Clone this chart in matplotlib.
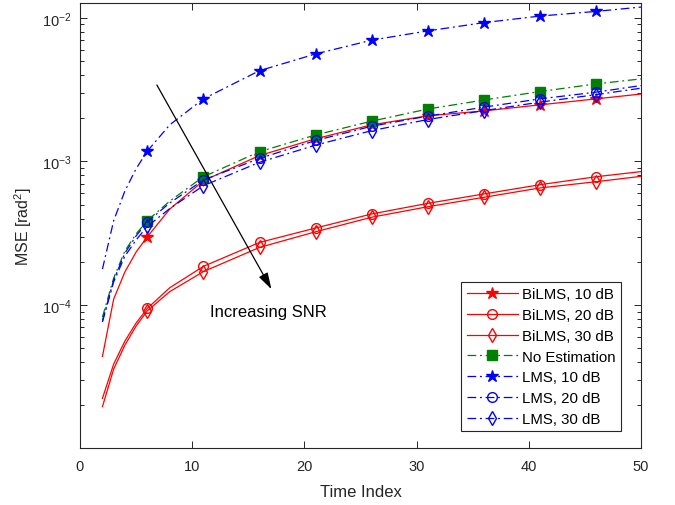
import numpy as np
import matplotlib
matplotlib.use("Agg")
import matplotlib.pyplot as plt

t = [2, 3, 4, 5, 6, 8, 11, 16, 21, 26, 31, 36, 41, 46, 50]
# Time indices that carry a marker
marker_t = [6, 11, 16, 21, 26, 31, 36, 41, 46]

# MSE values [rad^2]
bilms_10 = [4.39e-5, 1.10e-4, 1.70e-4, 2.34e-4, 2.99e-4, 4.66e-4, 7.35e-4, 1.10e-3,
            1.44e-3, 1.80e-3, 2.08e-3, 2.25e-3, 2.48e-3, 2.73e-3, 2.95e-3]
bilms_20 = [2.24e-5, 3.88e-5, 5.61e-5, 7.50e-5, 9.48e-5, 1.32e-4, 1.86e-4, 2.73e-4,
            3.44e-4, 4.31e-4, 5.11e-4, 5.94e-4, 6.89e-4, 7.83e-4, 8.50e-4]
bilms_30 = [1.96e-5, 3.58e-5, 5.26e-5, 7.14e-5, 9.12e-5, 1.24e-4, 1.71e-4, 2.52e-4,
            3.24e-4, 4.09e-4, 4.84e-4, 5.63e-4, 6.54e-4, 7.23e-4, 7.88e-4]
no_est = [8.25e-5, 1.54e-4, 2.38e-4, 3.13e-4, 3.87e-4, 5.30e-4, 7.83e-4, 1.17e-3,
          1.53e-3, 1.91e-3, 2.32e-3, 2.68e-3, 3.07e-3, 3.47e-3, 3.76e-3]
lms_10 = [1.78e-4, 3.87e-4, 6.23e-4, 8.90e-4, 1.18e-3, 1.80e-3, 2.73e-3, 4.29e-3,
          5.61e-3, 7.00e-3, 8.12e-3, 9.27e-3, 1.03e-2, 1.11e-2, 1.19e-2]
lms_20 = [7.78e-5, 1.49e-4, 2.30e-4, 3.03e-4, 3.80e-4, 5.14e-4, 7.43e-4, 1.05e-3,
          1.40e-3, 1.76e-3, 2.07e-3, 2.39e-3, 2.73e-3, 3.04e-3, 3.38e-3]
lms_30 = [7.62e-5, 1.45e-4, 2.19e-4, 2.84e-4, 3.53e-4, 4.70e-4, 6.78e-4, 9.87e-4,
          1.30e-3, 1.64e-3, 1.96e-3, 2.26e-3, 2.59e-3, 2.92e-3, 3.24e-3]

plt.rcParams['font.family'] = ['Liberation Sans', 'DejaVu Sans']
plt.rcParams['mathtext.fontset'] = 'custom'
plt.rcParams['mathtext.rm'] = 'Liberation Sans'
plt.rcParams['mathtext.it'] = 'Liberation Sans:italic'

dark = '#262626'
green = (0, 0.5, 0)
dashdot = (0, (7, 3, 1.5, 3))
marks = list(np.where(np.isin(t, marker_t))[0])

fig = plt.figure(figsize=(6.75, 5.06), dpi=100)
ax = fig.add_axes([80 / 675, 1 - 449 / 506, 561 / 675, 445 / 506])

lw = 0.9
ax.plot(t, bilms_10, color='r', lw=lw, marker='*', ms=9, markevery=marks,
        label='BiLMS, 10 dB')
ax.plot(t, bilms_20, color='r', lw=lw, marker='o', ms=7, mfc='none', markevery=marks,
        label='BiLMS, 20 dB')
ax.plot(t, bilms_30, color='r', lw=lw, marker='d', ms=7, mfc='none', markevery=marks,
        label='BiLMS, 30 dB')
ax.plot(t, no_est, color=green, lw=lw, ls=dashdot, marker='s', ms=6.5, markevery=marks,
        label='No Estimation')
ax.plot(t, lms_10, color='b', lw=lw, ls=dashdot, marker='*', ms=9, markevery=marks,
        label='LMS, 10 dB')
ax.plot(t, lms_20, color='b', lw=lw, ls=dashdot, marker='o', ms=7, mfc='none',
        markevery=marks, label='LMS, 20 dB')
ax.plot(t, lms_30, color='b', lw=lw, ls=dashdot, marker='d', ms=7, mfc='none',
        markevery=marks, label='LMS, 30 dB')

ax.set_yscale('log')
ax.set_xlim(0, 50)
ax.set_ylim(1.01e-5, 1.27e-2)
ax.set_xticks([0, 10, 20, 30, 40, 50])

# arrow and annotation
ax.annotate('', xy=(17.06, 1.29e-4), xytext=(6.85, 3.41e-3),
            arrowprops=dict(arrowstyle='-|>,head_length=1.0,head_width=0.3',
                            color='k', lw=0.9, shrinkA=0, shrinkB=0))
ax.text(11.57, 8.98e-5, 'Increasing SNR', va='center', ha='left', fontsize=12,
        color='k')

ax.set_xlabel('Time Index', fontsize=12, color=dark, labelpad=8)
ax.set_ylabel('MSE [rad$^{\\mathregular{2}}$]', fontsize=11.5, color=dark, labelpad=6)

ax.tick_params(which='both', direction='in', top=True, right=True,
               colors=dark, labelsize=10.5, width=0.7)
ax.tick_params(which='major', length=5, pad=8)
ax.tick_params(which='minor', length=3)
ax.tick_params(axis='y', which='major', pad=6)
for s in ax.spines.values():
    s.set_color(dark)
    s.set_linewidth(0.8)

leg = ax.legend(loc='lower right', bbox_to_anchor=(0.9643, 0.038), borderaxespad=0,
                fontsize=10.8, handlelength=3.4, handletextpad=0.3, labelspacing=0.45,
                borderpad=0.35, fancybox=False, framealpha=1, edgecolor=dark)
leg.get_frame().set_linewidth(0.8)

fig.savefig('out.png', dpi=100)
